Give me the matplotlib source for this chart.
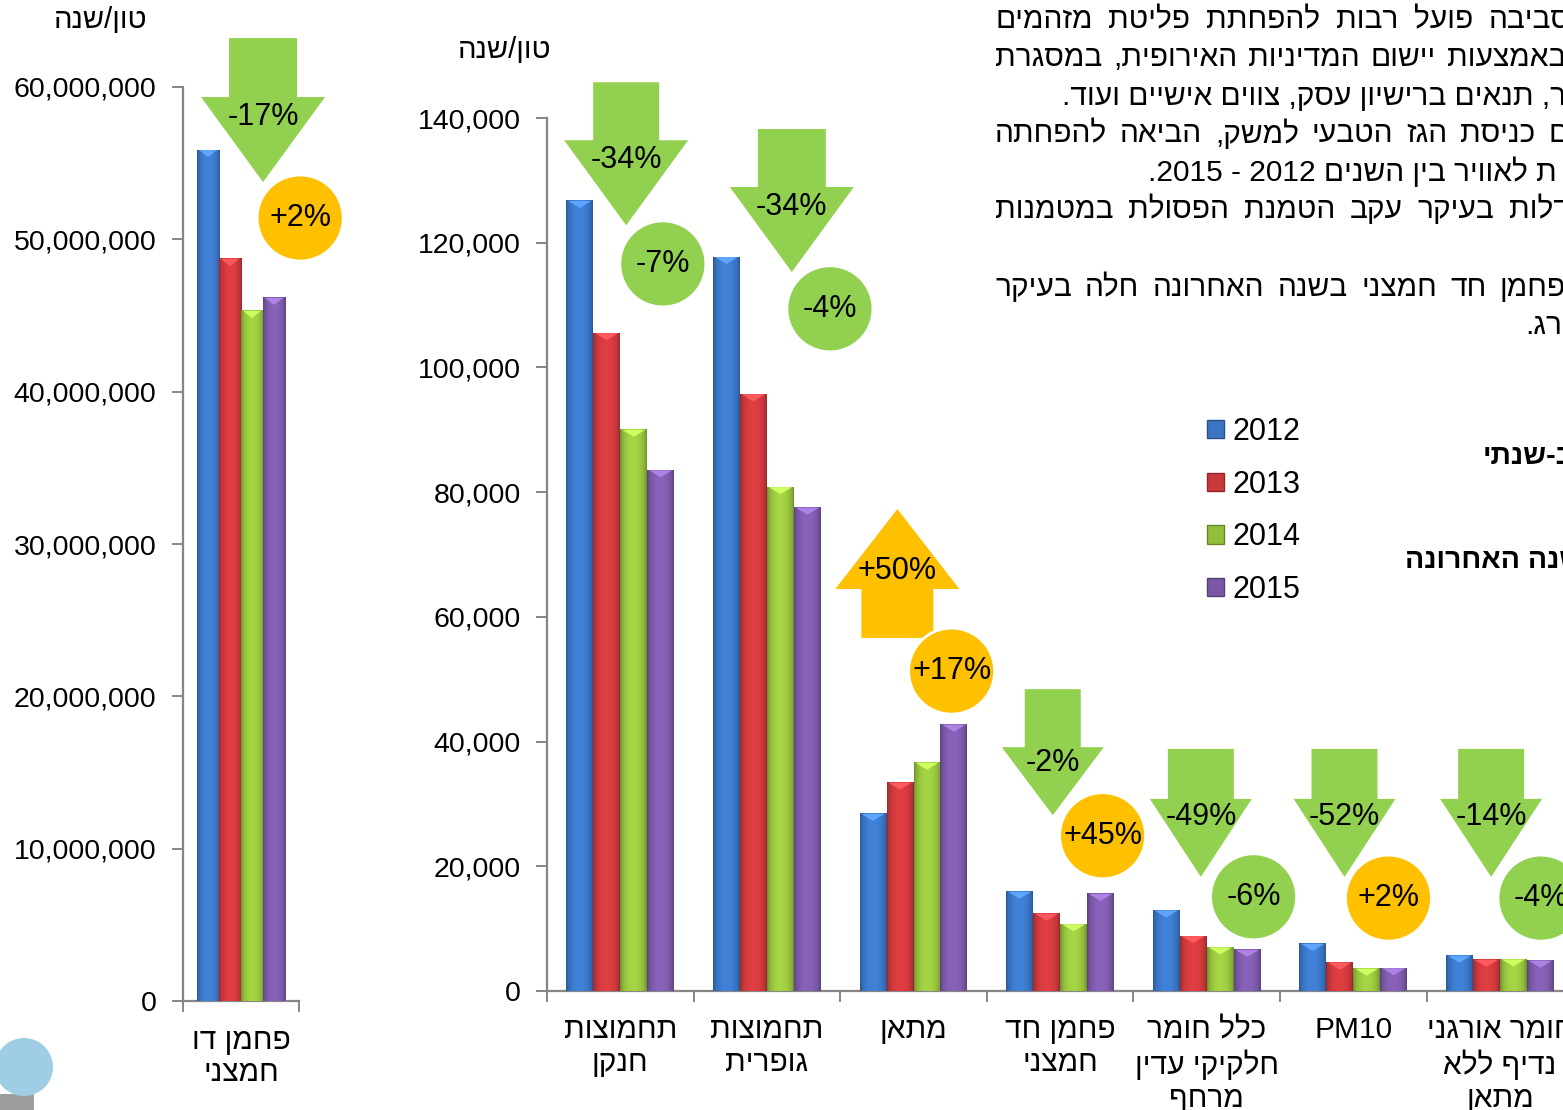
import re
import numpy as np
import matplotlib
matplotlib.use("Agg")
from matplotlib import pyplot as plt
from matplotlib import patches, transforms
from matplotlib.colors import to_rgb
from matplotlib.ticker import FuncFormatter

plt.rcParams['font.family'] = ['Liberation Sans', 'DejaVu Sans']

# ---- data (ton / year) ----
years = ["2012", "2013", "2014", "2015"]
bar_colors = ["#3a74c2", "#c9383b", "#94bf3d", "#7a58a6"]

co2_label = "פחמן דו\nחמצני"
co2_values = [55_860_000, 48_710_000, 45_300_000, 46_150_000]
co2_change = ["-17%", "+2%"]

pollutants = ["תחמוצות\nחנקן", "תחמוצות\nגופרית", "מתאן", "פחמן חד\nחמצני",
              "כלל חומר\nחלקיקי עדין\nמרחף", "PM10", "חומר אורגני\nנדיף ללא\nמתאן"]
v2012 = [126_700, 117_700, 28_400, 15_900, 12_900, 7_550, 5_650]
v2013 = [105_500, 95_700, 33_400, 12_400, 8_800, 4_550, 4_980]
v2014 = [90_000, 80_800, 36_600, 10_700, 7_000, 3_580, 5_060]
v2015 = [83_500, 77_500, 42_700, 15_560, 6_580, 3_650, 4_860]
change_long = ["-34%", "-34%", "+50%", "-2%", "-49%", "-52%", "-14%"]   # 2012 -> 2015
change_last = ["-7%", "-4%", "+17%", "+45%", "-6%", "+2%", "-4%"]      # 2014 -> 2015

unit = "טון/שנה"
text_lines = [
    "הסביבה פועל רבות להפחתת פליטת מזהמים",
    "באמצעות יישום המדיניות האירופית, במסגרת",
    "ר, תנאים ברישיון עסק, צווים אישיים ועוד.",
    "עם כניסת הגז הטבעי למשק, הביאה להפחתה",
    "ת לאוויר בין השנים 2012 - 2015.",
    "גדלות בעיקר עקב הטמנת הפסולת במטמנות",
    "בפחמן חד חמצני בשנה האחרונה חלה בעיקר",
    "רג.",
]

# ---- layout (pixels of the 1563x1110 picture) ----
W, H = 1563, 1110
text_xy = [(995, 20), (995, 58), (1062, 97), (995, 134), (1148, 172),
           (995, 210), (995, 288), (1525, 326)]
text_right = [1590, 1566, None, 1586, None, 1582, 1584, None]   # justified lines
# annotation anchors in data coords: offset from category centre, y value
arrow_dx = [0.04, 0.17, -0.11, -0.05, -0.04, -0.06, -0.06]
arrow_y = [122_800, 115_300, 77_300, 28_200, 18_300, 18_300, 18_300]
arrow_size = [(62, 85, 33, 58), (62, 85, 34, 58), (62, 80, 36, 49), (51, 68, 28, 58),
              (51, 78, 33, 50), (51, 78, 33, 50), (51, 78, 33, 50)]
circle_dx = [0.29, 0.43, 0.26, 0.29, 0.32, 0.24, 0.28]
circle_y = [116_600, 109_400, 51_300, 24_900, 15_100, 14_900, 14_900]

GREEN = "#92d050"
ORANGE = "#ffc000"
AXIS = "#868686"


def heb(s):
    # no bidi in matplotlib: flip hebrew, keep digits left-to-right
    out = []
    for line in s.split("\n"):
        r = line[::-1]
        r = re.sub(r"[0-9A-Za-z]+", lambda m: m.group(0)[::-1], r)
        out.append(r)
    return "\n".join(out)


def fx(px):
    return px / W


def fy(py):
    return 1 - py / H


fig = plt.figure(figsize=(W / 100, H / 100), dpi=100)


def px_at(ax, x, y):
    # shape in pixels, anchored on a data point
    return (transforms.Affine2D().scale(1 / fig.dpi) + fig.dpi_scale_trans
            + transforms.ScaledTranslation(x, y, ax.transData))


def shade_bar(ax, bar, color):
    x0, w, h = bar.get_x(), bar.get_width(), bar.get_height()
    rgb = np.array(to_rgb(color))
    t = np.linspace(0, 1, 48)
    prof = 0.72 + 0.40 * np.sin(np.pi * t) ** 0.5
    img = np.clip(rgb[None, :] * prof[:, None], 0, 1)[None, :, :]
    ax.imshow(img, extent=[x0, x0 + w, 0, h], aspect="auto",
              interpolation="bilinear", zorder=3)
    wpx = ax.transData.transform((w, 0))[0] - ax.transData.transform((0, 0))[0]
    light = np.clip(rgb * 1.25 + 0.08, 0, 1)
    cap = patches.Polygon([(-wpx / 2 + 2, 0), (wpx / 2 - 2, 0), (0, -7)], closed=True,
                          facecolor=light, edgecolor="none",
                          transform=px_at(ax, x0 + w / 2, h), zorder=4)
    fig.add_artist(cap)


def down_arrow(hw, hh, sw, sh, sign=1):
    pts = [(0, 0), (hw, hh), (sw, hh), (sw, hh + sh), (-sw, hh + sh), (-sw, hh), (-hw, hh)]
    return [(a, sign * b) for a, b in pts]


def style_axes(ax):
    for s in ["top", "right"]:
        ax.spines[s].set_visible(False)
    for s in ["left", "bottom"]:
        ax.spines[s].set_color(AXIS)
        ax.spines[s].set_linewidth(1.6)
    ax.tick_params(which="major", color=AXIS, width=1.4, length=8, direction="out")
    ax.set_facecolor("none")


def draw_groups(ax, series, bw, ymax):
    n = len(series[0])
    x = np.arange(n)
    ax.set_xlim(-0.5, n - 0.5)
    ax.set_ylim(0, ymax)
    offs = (np.arange(len(series)) - 1.5) * bw
    for vals, off, c in zip(series, offs, bar_colors):
        bars = ax.bar(x + off, vals, bw, color=c, zorder=2, linewidth=0)
        for b in bars:
            shade_bar(ax, b, c)
    ax.set_xlim(-0.5, n - 0.5)
    ax.set_ylim(0, ymax)


# ---- left chart: CO2 ----
axl = fig.add_axes([fx(183), fy(1001), fx(116), fy(87) - fy(1001)])
style_axes(axl)
draw_groups(axl, [[v] for v in co2_values], 0.19, 60_000_000)
axl.set_yticks(np.arange(0, 60_000_001, 10_000_000))
axl.yaxis.set_major_formatter(FuncFormatter(lambda v, p: f"{v:,.0f}"))
axl.tick_params(axis="y", labelsize=20.5, pad=11)
axl.set_xticks([-0.5, 0.5])
axl.set_xticklabels(["", ""])
axl.set_xticks([0], minor=True)
axl.set_xticklabels([heb(co2_label)], minor=True, fontsize=21.5, linespacing=1.15)
axl.tick_params(axis="x", which="minor", length=0, pad=19)
fig.text(fx(101), fy(20), heb(unit), fontsize=21, ha="center", va="center")

# ---- main chart ----
axm = fig.add_axes([fx(547), fy(991), fx(7 * 146.6), fy(118) - fy(991)])
style_axes(axm)
draw_groups(axm, [v2012, v2013, v2014, v2015], 0.184, 140_000)
axm.set_yticks(np.arange(0, 140_001, 20_000))
axm.yaxis.set_major_formatter(FuncFormatter(lambda v, p: f"{v:,.0f}"))
axm.tick_params(axis="y", labelsize=20.5, pad=11)
axm.set_xticks(np.arange(-0.5, len(pollutants), 1.0))
axm.set_xticklabels([""] * (len(pollutants) + 1))
axm.set_xticks(np.arange(len(pollutants)), minor=True)
axm.set_xticklabels([p if p.isascii() else heb(p) for p in pollutants], minor=True,
                    fontsize=21.5, linespacing=1.22)
axm.tick_params(axis="x", which="minor", length=0, pad=18)
fig.text(fx(505), fy(50), heb(unit), fontsize=21, ha="center", va="center")


# ---- change markers ----
def marker_arrow(ax, x, y, size, label, up=False):
    hw, hh, sw, sh = size
    col = ORANGE if up else GREEN
    sign = -1 if up else 1
    poly = patches.Polygon(down_arrow(hw, hh, sw, sh, sign), closed=True,
                           facecolor=col, edgecolor="none", transform=px_at(ax, x, y),
                           zorder=5)
    fig.add_artist(poly)
    fig.text(0, sign * hh * 0.77, label, fontsize=22, ha="center", va="center",
             transform=px_at(ax, x, y), zorder=7)


def marker_circle(ax, x, y, label):
    col = GREEN if label.startswith("-") else ORANGE
    c = patches.Circle((0, 0), 43, facecolor=col, edgecolor="white", linewidth=2,
                       transform=px_at(ax, x, y), zorder=6)
    fig.add_artist(c)
    fig.text(0, 0, label, fontsize=22, ha="center", va="center",
             transform=px_at(ax, x, y), zorder=7)


marker_arrow(axl, 0.19, 53_760_000, (62, 85, 34, 59), co2_change[0])
marker_circle(axl, 0.51, 51_400_000, co2_change[1])

for i in range(len(pollutants)):
    marker_arrow(axm, i + arrow_dx[i], arrow_y[i], arrow_size[i], change_long[i],
                 up=change_long[i].startswith("+"))
    marker_circle(axm, i + circle_dx[i], circle_y[i], change_last[i])

# ---- legend ----
leg_handles = [patches.Patch(facecolor=c, edgecolor=np.clip(np.array(to_rgb(c)) * 0.7, 0, 1))
               for c in bar_colors]
fig.legend(leg_handles, years, loc="upper left", bbox_to_anchor=(fx(1207), fy(417)),
           frameon=False, fontsize=22, handlelength=0.55, handleheight=0.55,
           handletextpad=0.3, labelspacing=0.74, borderpad=0, borderaxespad=0)

# ---- surrounding page text (cut off at the right edge) ----
renderer = fig.canvas.get_renderer()
for s, (x, y), xr in zip(text_lines, text_xy, text_right):
    if xr is None:
        fig.text(fx(x), fy(y), heb(s), fontsize=21.5, ha="left", va="center")
        continue
    # justified line: spread the words between both edges
    words = heb(s).split(" ")
    items = [fig.text(0, fy(y), wd, fontsize=21.5, ha="left", va="center") for wd in words]
    widths = [t.get_window_extent(renderer).width for t in items]
    gap = (xr - x - sum(widths)) / (len(words) - 1)
    pos = x
    for t, wd in zip(items, widths):
        t.set_x(fx(pos))
        pos += wd + gap

fig.text(fx(1483), fy(457), heb("ב-שנתי"), fontsize=20.5, fontweight="bold",
         ha="left", va="center")
fig.text(fx(1405), fy(561), heb("שנה האחרונה"), fontsize=20.5, fontweight="bold",
         ha="left", va="center")

# logo remains, bottom left
fig.add_artist(patches.Rectangle((0, fy(1110)), fx(34), fy(1094) - fy(1110),
                                 facecolor="#9d9d9d", edgecolor="none"))
fig.add_artist(patches.Ellipse((fx(24), fy(1067)), 2 * 29 / W, 2 * 29 / H,
                               facecolor="#9fcde3", edgecolor="none"))

fig.savefig("out.png", dpi=100)
